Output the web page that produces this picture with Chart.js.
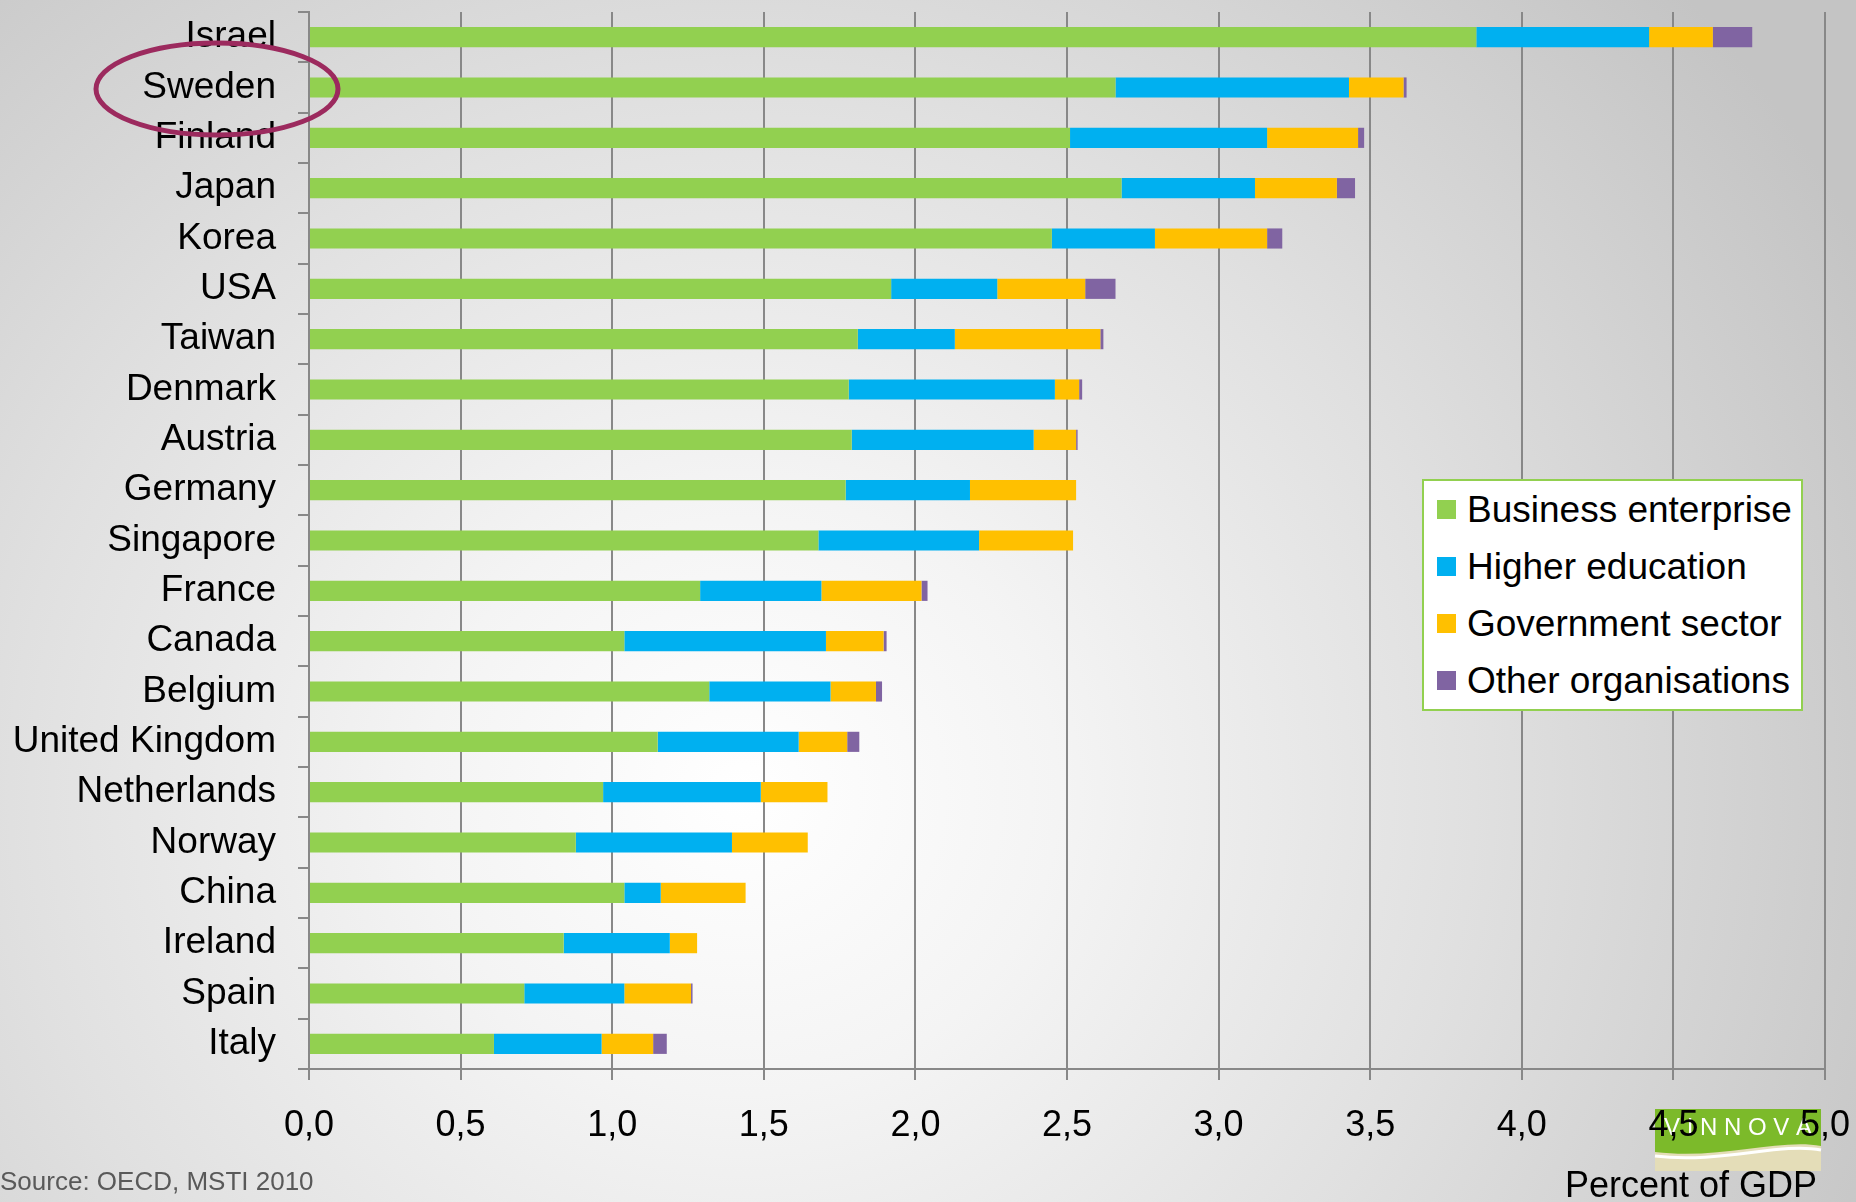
<!DOCTYPE html>
<html>
<head>
<meta charset="utf-8">
<script src="https://cdn.jsdelivr.net/npm/chart.js@4.4.1/dist/chart.umd.min.js"></script>
<style>
    html, body {
        margin: 0;
        padding: 0;
        overflow: hidden;
    }
    body {
        width: 1856px;
        height: 1202px;
        background: radial-gradient(ellipse 68% 100% at 40% 66%, #ffffff 0%, #f4f4f4 25%, #e0e0e0 58%, #c4c4c4 100%);
        font-family: 'Liberation Sans', Arial, sans-serif;
    }
    #wrap {
        position: absolute;
        left: 0;
        top: 0;
        width: 1856px;
        height: 1202px;
    }
    #legend {
        position: absolute;
        left: 1422px;
        top: 479px;
        width: 377px;
        height: 228px;
        background: #ffffff;
        border: 2px solid #92d050;
    }
    #legend .row {
        height: 57px;
        line-height: 57px;
        font-size: 37px;
        color: #000;
        white-space: nowrap;
        position: relative;
        padding-left: 43px;
    }
    #legend .box {
        position: absolute;
        left: 13px;
        top: 19px;
        width: 19px;
        height: 19px;
    }
</style>
</head>
<body>
<div id="wrap"><canvas id="rdChart"></canvas></div>
<div id="legend"></div>
<script>
// R&D expenditure by sector, percent of GDP (OECD, MSTI 2010)
const countries = ['Israel', 'Sweden', 'Finland', 'Japan', 'Korea', 'USA', 'Taiwan', 'Denmark',
    'Austria', 'Germany', 'Singapore', 'France', 'Canada', 'Belgium', 'United Kingdom',
    'Netherlands', 'Norway', 'China', 'Ireland', 'Spain', 'Italy'];
const business = [3.85, 2.66, 2.51, 2.68, 2.45, 1.92, 1.81, 1.78, 1.79, 1.77, 1.68,
    1.29, 1.04, 1.32, 1.15, 0.97, 0.88, 1.04, 0.84, 0.71, 0.61];
const higherEducation = [0.57, 0.77, 0.65, 0.44, 0.34, 0.35, 0.32, 0.68, 0.60, 0.41, 0.53,
    0.40, 0.665, 0.40, 0.465, 0.52, 0.515, 0.12, 0.35, 0.33, 0.355];
const government = [0.21, 0.18, 0.30, 0.27, 0.37, 0.29, 0.48, 0.08, 0.14, 0.35, 0.31,
    0.33, 0.19, 0.15, 0.16, 0.22, 0.25, 0.28, 0.09, 0.22, 0.17];
const otherOrgs = [0.13, 0.01, 0.02, 0.06, 0.05, 0.10, 0.01, 0.01, 0.005, 0, 0,
    0.02, 0.01, 0.02, 0.04, 0, 0, 0, 0, 0.005, 0.045];
const seriesNames = ['Business enterprise', 'Higher education', 'Government sector', 'Other organisations'];
const seriesColors = ['#92d050', '#00b0f0', '#ffc000', '#8064a2'];
const xTickLabels = ['0,0', '0,5', '1,0', '1,5', '2,0', '2,5', '3,0', '3,5', '4,0', '4,5', '5,0'];

const FONT = "'Liberation Sans', Arial, sans-serif";
const AXIS_GREY = '#888888';

// html legend
const legendEl = document.getElementById('legend');
seriesNames.forEach(function (name, i) {
    const row = document.createElement('div');
    row.className = 'row';
    row.innerHTML = '<span class="box" style="background:' + seriesColors[i] + '"></span>' + name;
    legendEl.appendChild(row);
});

// logo behind the tick labels, notes and circle on top
const decorations = {
    id: 'decorations',
    beforeDraw: function (chart) {
        const ctx = chart.ctx;
        ctx.save();
        // VINNOVA logo
        ctx.fillStyle = '#e4ddb8';
        ctx.fillRect(1655, 1109, 166, 62);
        ctx.fillStyle = '#7cba2a';
        ctx.beginPath();
        ctx.moveTo(1655, 1109);
        ctx.lineTo(1821, 1109);
        ctx.lineTo(1821, 1146);
        ctx.bezierCurveTo(1780, 1138, 1720, 1160, 1655, 1152);
        ctx.closePath();
        ctx.fill();
        ctx.strokeStyle = '#ffffff';
        ctx.lineWidth = 3;
        ctx.beginPath();
        ctx.moveTo(1655, 1156);
        ctx.bezierCurveTo(1720, 1164, 1780, 1142, 1821, 1150);
        ctx.stroke();
        ctx.fillStyle = '#ffffff';
        ctx.font = '24px ' + FONT;
        ctx.textAlign = 'center';
        ctx.textBaseline = 'middle';
        ctx.fillText('V I N N O V A', 1738, 1128);
        ctx.restore();
    },
    afterDraw: function (chart) {
        const ctx = chart.ctx;
        ctx.save();
        ctx.fillStyle = '#595959';
        ctx.font = '26px ' + FONT;
        ctx.textAlign = 'left';
        ctx.textBaseline = 'alphabetic';
        ctx.fillText('Source: OECD, MSTI 2010', 0, 1190);
        ctx.fillStyle = '#000000';
        ctx.font = '36px ' + FONT;
        ctx.textAlign = 'right';
        ctx.fillText('Percent of GDP', 1817, 1197);
        // circle around Sweden
        ctx.strokeStyle = '#9c2a5e';
        ctx.lineWidth = 5;
        ctx.beginPath();
        ctx.ellipse(217, 89, 121, 46, 0, 0, Math.PI * 2);
        ctx.stroke();
        ctx.restore();
    }
};

const rdCtx = document.getElementById('rdChart').getContext('2d');
new Chart(rdCtx, {
    type: 'bar',
    data: {
        labels: countries,
        datasets: [business, higherEducation, government, otherOrgs].map(function (values, i) {
            return {
                label: seriesNames[i],
                data: values,
                backgroundColor: seriesColors[i],
                borderWidth: 0,
                barPercentage: 0.4,
                categoryPercentage: 1.0
            };
        })
    },
    options: {
        indexAxis: 'y',
        responsive: true,
        maintainAspectRatio: false,
        animation: false,
        layout: {
            padding: { top: 12, right: 31, left: 0, bottom: 0 }
        },
        plugins: {
            legend: { display: false },
            tooltip: { enabled: false }
        },
        scales: {
            x: {
                stacked: true,
                min: 0,
                max: 5,
                afterFit: function (scale) {
                    scale.height = 133;
                    scale.paddingLeft = 0;
                    scale.paddingRight = 0;
                },
                ticks: {
                    stepSize: 0.5,
                    color: '#000000',
                    padding: 24,
                    maxRotation: 0,
                    font: { family: FONT, size: 36 },
                    callback: function (value, index) { return xTickLabels[index]; }
                },
                grid: {
                    color: AXIS_GREY,
                    lineWidth: 2,
                    tickLength: 11
                },
                border: { color: AXIS_GREY, width: 2 }
            },
            y: {
                stacked: true,
                afterFit: function (scale) {
                    scale.width = 309;
                    scale.paddingTop = 0;
                    scale.paddingBottom = 0;
                },
                ticks: {
                    color: '#000000',
                    padding: 22,
                    font: { family: FONT, size: 37 }
                },
                grid: {
                    drawOnChartArea: false,
                    color: AXIS_GREY,
                    lineWidth: 2,
                    tickLength: 11,
                    offset: true
                },
                border: { color: AXIS_GREY, width: 2 }
            }
        }
    },
    plugins: [decorations]
});
</script>
</body>
</html>
